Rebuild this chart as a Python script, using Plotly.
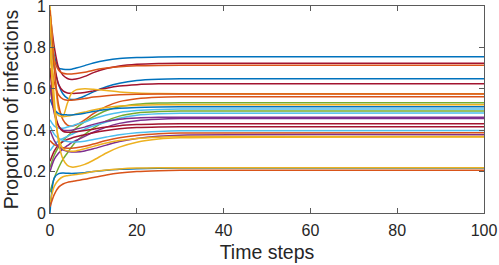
import plotly.graph_objects as go

time_steps = [0, 1, 2, 3, 4, 5, 6, 8, 10, 13, 16, 20, 25, 30, 100]

s_blue_1 = [0.93, 0.76, 0.70, 0.695, 0.693, 0.695, 0.70, 0.712, 0.725, 0.738, 0.746, 0.751, 0.754, 0.755, 0.755]
s_red_1 = [0.97, 0.80, 0.70, 0.665, 0.65, 0.645, 0.647, 0.66, 0.678, 0.698, 0.71, 0.718, 0.722, 0.723, 0.723]
s_orange_1 = [0.88, 0.74, 0.69, 0.675, 0.672, 0.672, 0.674, 0.68, 0.69, 0.70, 0.707, 0.711, 0.713, 0.714, 0.714]
s_blue_2 = [0.85, 0.70, 0.62, 0.575, 0.555, 0.548, 0.55, 0.565, 0.585, 0.61, 0.627, 0.64, 0.646, 0.648, 0.649]
s_red_2 = [0.92, 0.72, 0.62, 0.59, 0.58, 0.578, 0.578, 0.582, 0.59, 0.603, 0.613, 0.62, 0.624, 0.625, 0.625]
s_yellow_1 = [1.0, 0.72, 0.50, 0.47, 0.53, 0.58, 0.595, 0.60, 0.598, 0.592, 0.585, 0.58, 0.577, 0.576, 0.576]
s_orange_2 = [0.78, 0.63, 0.57, 0.55, 0.545, 0.545, 0.547, 0.553, 0.56, 0.567, 0.571, 0.574, 0.575, 0.575, 0.575]
s_orange_3 = [0.98, 0.70, 0.52, 0.45, 0.425, 0.42, 0.425, 0.45, 0.48, 0.515, 0.538, 0.552, 0.559, 0.561, 0.562]
s_green_1 = [0.22, 0.28, 0.32, 0.35, 0.37, 0.39, 0.41, 0.44, 0.465, 0.495, 0.513, 0.525, 0.531, 0.533, 0.533]
s_yellow_2 = [0.60, 0.50, 0.47, 0.465, 0.468, 0.472, 0.478, 0.488, 0.498, 0.51, 0.517, 0.521, 0.523, 0.523, 0.523]
s_blue_3 = [0.55, 0.50, 0.48, 0.475, 0.474, 0.474, 0.476, 0.482, 0.49, 0.50, 0.506, 0.51, 0.512, 0.513, 0.513]
s_lblue_1 = [0.45, 0.42, 0.41, 0.41, 0.415, 0.42, 0.428, 0.44, 0.455, 0.473, 0.486, 0.495, 0.50, 0.502, 0.502]
s_green_2 = [0.10, 0.17, 0.22, 0.26, 0.29, 0.32, 0.345, 0.38, 0.41, 0.445, 0.468, 0.483, 0.49, 0.493, 0.493]
s_lblue_2 = [0.30, 0.33, 0.35, 0.36, 0.37, 0.38, 0.39, 0.405, 0.42, 0.44, 0.458, 0.472, 0.479, 0.482, 0.483]
s_purple_1 = [0.62, 0.48, 0.42, 0.40, 0.398, 0.40, 0.405, 0.415, 0.428, 0.443, 0.453, 0.459, 0.462, 0.463, 0.463]
s_purple_2 = [0.20, 0.26, 0.29, 0.31, 0.325, 0.34, 0.35, 0.37, 0.39, 0.415, 0.433, 0.446, 0.453, 0.456, 0.457]
s_red_3 = [0.70, 0.50, 0.42, 0.395, 0.39, 0.39, 0.392, 0.398, 0.405, 0.415, 0.422, 0.427, 0.43, 0.431, 0.431]
s_red_4 = [0.25, 0.30, 0.33, 0.345, 0.355, 0.362, 0.368, 0.378, 0.388, 0.399, 0.407, 0.413, 0.416, 0.417, 0.417]
s_lblue_3 = [0.42, 0.38, 0.36, 0.35, 0.345, 0.343, 0.343, 0.347, 0.355, 0.367, 0.378, 0.388, 0.394, 0.397, 0.398]
s_orange_4 = [0.35, 0.33, 0.32, 0.315, 0.313, 0.313, 0.315, 0.322, 0.333, 0.35, 0.363, 0.375, 0.383, 0.387, 0.388]
s_purple_3 = [0.40, 0.35, 0.32, 0.305, 0.298, 0.295, 0.295, 0.30, 0.31, 0.328, 0.345, 0.36, 0.371, 0.376, 0.378]
s_yellow_3 = [0.95, 0.55, 0.34, 0.26, 0.23, 0.222, 0.223, 0.235, 0.255, 0.29, 0.318, 0.342, 0.357, 0.363, 0.367]
s_yellow_4 = [0.80, 0.50, 0.36, 0.31, 0.30, 0.298, 0.30, 0.31, 0.322, 0.338, 0.35, 0.36, 0.366, 0.369, 0.37]
s_blue_4 = [0.0, 0.17, 0.19, 0.193, 0.192, 0.191, 0.192, 0.195, 0.20, 0.206, 0.211, 0.214, 0.216, 0.217, 0.217]
s_yellow_5 = [0.05, 0.13, 0.16, 0.175, 0.18, 0.183, 0.186, 0.192, 0.20, 0.208, 0.213, 0.217, 0.219, 0.219, 0.219]
s_orange_5 = [0.03, 0.09, 0.125, 0.14, 0.148, 0.152, 0.156, 0.163, 0.172, 0.184, 0.193, 0.20, 0.204, 0.206, 0.206]

series = [
    s_blue_1, s_red_1, s_orange_1, s_blue_2, s_red_2, s_yellow_1, s_orange_2, s_orange_3,
    s_green_1, s_yellow_2, s_blue_3, s_lblue_1, s_green_2, s_lblue_2, s_purple_1, s_purple_2,
    s_red_3, s_red_4, s_lblue_3, s_orange_4, s_purple_3, s_yellow_3, s_yellow_4,
    s_blue_4, s_yellow_5, s_orange_5,
]

BLUE, ORANGE, YELLOW, PURPLE = "#0072BD", "#D95319", "#EDB120", "#7E2F8E"
GREEN, LBLUE, DRED = "#77AC30", "#4DBEEE", "#A2142F"
series_colors = [
    BLUE, DRED, ORANGE, BLUE, DRED, YELLOW, ORANGE, ORANGE,
    GREEN, YELLOW, BLUE, LBLUE, GREEN, LBLUE, PURPLE, PURPLE,
    DRED, DRED, LBLUE, ORANGE, PURPLE, YELLOW, YELLOW,
    BLUE, YELLOW, ORANGE,
]

x_ticks = [0, 20, 40, 60, 80, 100]
y_ticks = [0, 0.2, 0.4, 0.6, 0.8, 1]
y_tick_labels = ["0", "0.2", "0.4", "0.6", "0.8", "1"]

fig = go.Figure()
for vals, col in zip(series, series_colors):
    fig.add_trace(go.Scatter(
        x=time_steps, y=vals, mode="lines",
        line=dict(color=col, width=1.5, shape="spline", smoothing=0.8),
        showlegend=False, hoverinfo="skip", cliponaxis=True,
    ))

FONT = "Liberation Sans, Arial, sans-serif"
axis_common = dict(
    showgrid=False, zeroline=False, showline=True, linecolor="#5a5a5a", linewidth=1,
    mirror="ticks", ticks="inside", ticklen=5, tickcolor="#5a5a5a", tickwidth=1,
    tickfont=dict(family=FONT, size=16, color="#262626"),
    automargin=False, ticklabeloverflow="allow",
)

fig.update_layout(
    width=499, height=265,
    margin=dict(l=50, r=15, t=6, b=52, autoexpand=False),
    paper_bgcolor="white", plot_bgcolor="white",
    font=dict(family=FONT, color="#262626"),
    xaxis=dict(range=[0, 100], tickvals=x_ticks, ticklabelstandoff=3,
               title=dict(text="Time steps", font=dict(size=19.5), standoff=7),
               **axis_common),
    yaxis=dict(range=[0, 1], tickvals=y_ticks, ticktext=y_tick_labels,
               title=dict(text="Proportion of infections", font=dict(size=19.5), standoff=2),
               **axis_common),
)

fig.write_html("out.html", config={"displayModeBar": False, "staticPlot": True},
               post_script="document.body.style.margin='0';document.body.style.overflow='hidden';")
